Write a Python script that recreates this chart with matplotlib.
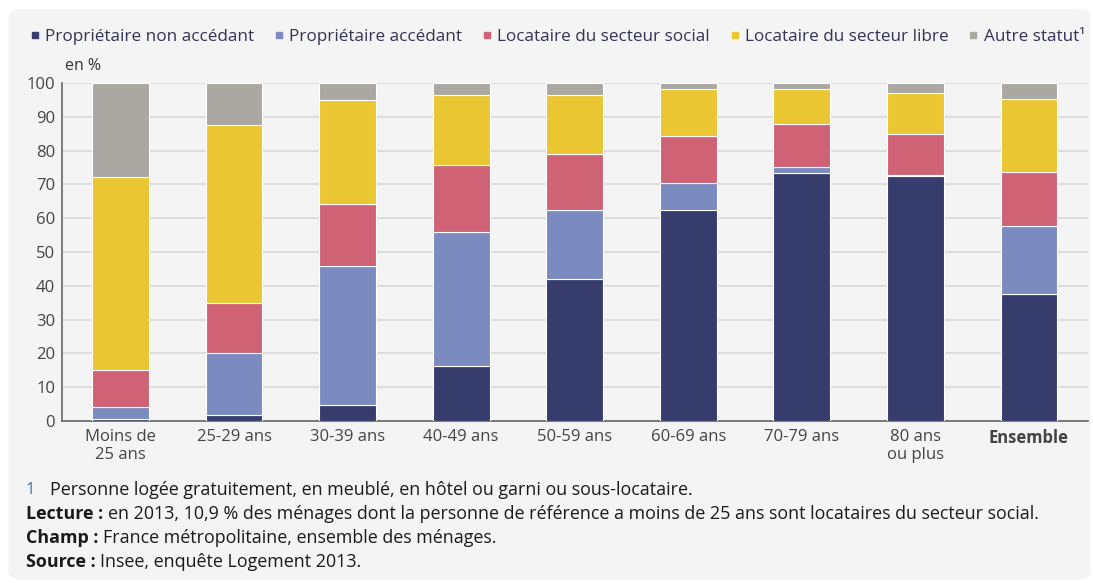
import matplotlib
matplotlib.use("Agg")
import matplotlib.pyplot as plt
from matplotlib.patches import FancyBboxPatch
from matplotlib.lines import Line2D

plt.rcParams['font.family'] = ['Open Sans', 'DejaVu Sans']

# Data (en %)
categories = ['Moins de\n25 ans', '25-29 ans', '30-39 ans', '40-49 ans', '50-59 ans',
              '60-69 ans', '70-79 ans', '80 ans\nou plus', 'Ensemble']
proprio_non_acc = [0.7, 1.9, 4.6, 16.4, 41.9, 62.5, 73.3, 72.6, 37.5]
proprio_acc = [3.5, 18.1, 41.3, 39.6, 20.6, 8.0, 1.8, 0.3, 20.3]
loc_social = [10.9, 14.9, 18.3, 19.6, 16.6, 13.9, 12.8, 11.9, 15.8]
loc_libre = [57.0, 52.7, 30.8, 20.9, 17.4, 13.8, 10.3, 12.2, 21.6]
autre = [27.9, 12.4, 5.0, 3.5, 3.5, 1.8, 1.8, 3.0, 4.8]

series = [
    ('Propriétaire non accédant', proprio_non_acc, '#363c6c'),
    ('Propriétaire accédant', proprio_acc, '#7b8bbf'),
    ('Locataire du secteur social', loc_social, '#cf6275'),
    ('Locataire du secteur libre', loc_libre, '#e9c632'),
    ('Autre statut¹', autre, '#aba8a3'),
]

fig = plt.figure(figsize=(10.93, 5.83), dpi=100)
fig.patch.set_facecolor('white')
bg = FancyBboxPatch((0.008, 0.005), 0.99, 0.98, boxstyle="round,pad=0,rounding_size=0.015",
                    transform=fig.transFigure, facecolor='#f4f4f4', edgecolor='none', zorder=-10)
fig.patches.append(bg)

ax = fig.add_axes([62 / 1093, 1 - 421 / 583, (1088 - 62) / 1093, (421 - 83) / 583])
ax.set_facecolor('#f4f4f4')

x = list(range(len(categories)))
bottom = [0.0] * len(categories)
for name, vals, col in series:
    ax.bar(x, vals, bottom=bottom, width=0.5, color=col, edgecolor='white', linewidth=0.8, zorder=3)
    bottom = [b + v for b, v in zip(bottom, vals)]

ax.set_xlim(-0.515, 8.52)
ax.set_ylim(0, 100)
ax.set_yticks(range(0, 101, 10))
ax.yaxis.grid(True, color='#d9d9d9', linewidth=1.2, zorder=0)
ax.set_xticks(x)
ax.set_xticklabels(categories, fontsize=12, color='#444444', linespacing=1.15)
ax.get_xticklabels()[-1].set_fontweight('bold')
ax.tick_params(axis='both', length=0, labelsize=12, colors='#444444')
ax.tick_params(axis='x', pad=6)
ax.tick_params(axis='y', pad=5)
for s in ['top', 'right']:
    ax.spines[s].set_visible(False)
for s in ['left', 'bottom']:
    ax.spines[s].set_color('#666666')
    ax.spines[s].set_linewidth(1.2)

# Legend
handles = [Line2D([0], [0], marker='s', linestyle='none', markersize=5, color=c) for _, _, c in series]
fig.legend(handles, [n for n, _, _ in series], loc='center', bbox_to_anchor=(0.5096, 1 - 37 / 583),
           ncol=5, frameon=False, fontsize=12.3, handletextpad=0.25, columnspacing=1.1,
           labelcolor='#333355', handlelength=0.7, borderpad=0.1)

fig.text(65 / 1093, 1 - 66 / 583, 'en %', fontsize=11.5, color='#333333', va='center')

# Footnotes
renderer = fig.canvas.get_renderer()
fig.text(26 / 1093, 1 - 490 / 583, '1', fontsize=12, color='#3d6fb0', va='center')
fig.text(50 / 1093, 1 - 490 / 583, 'Personne logée gratuitement, en meublé, en hôtel ou garni ou sous-locataire.',
         fontsize=12.9, color='#1a1a1a', va='center')
notes = [
    ('Lecture : ', 'en 2013, 10,9 % des ménages dont la personne de référence a moins de 25 ans sont locataires du secteur social.', 514),
    ('Champ : ', 'France métropolitaine, ensemble des ménages.', 538),
    ('Source : ', 'Insee, enquête Logement 2013.', 562),
]
for bold, rest, ypix in notes:
    t = fig.text(26 / 1093, 1 - ypix / 583, bold, fontsize=12.9, fontweight='bold', color='#1a1a1a', va='center')
    bb = t.get_window_extent(renderer=renderer)
    fig.text(bb.x1 / fig.bbox.width, 1 - ypix / 583, rest, fontsize=12.9, color='#1a1a1a', va='center')

fig.savefig('out.png', dpi=100, facecolor=fig.get_facecolor())
